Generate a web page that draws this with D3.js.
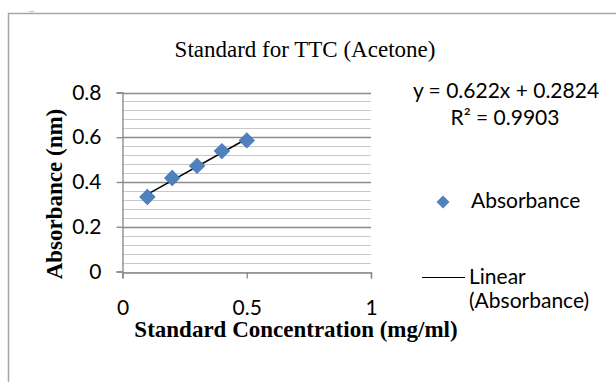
<!DOCTYPE html>
<html>
<head>
<meta charset="utf-8">
<script src="https://cdn.jsdelivr.net/npm/d3@7.9.0/dist/d3.min.js"></script>
<style>
  body { margin: 0; background: #fff; }
  svg { display: block; }
  .serif { font-family: "Liberation Serif", "Times New Roman", serif; }
  .sans { font-family: Lato, "Open Sans", sans-serif; }
</style>
</head>
<body>
<svg width="616" height="382"></svg>
<script>
// data
const concentration = [0.1, 0.2, 0.3, 0.4, 0.5];
const absorbance = [0.333, 0.418, 0.472, 0.538, 0.586];
const slope = 0.622;
const intercept = 0.2824;
const rSquared = 0.9903;
const xTicks = [0, 0.5, 1];
const yTicks = [0, 0.2, 0.4, 0.6, 0.8];
const yMinorTicks = d3.range(0, 0.8001, 0.04);

const svg = d3.select("svg");

// outer chart frame (only left/top edges are visible)
svg.append("path")
  .attr("d", "M8.5,382 L8.5,13.5 L616,13.5")
  .attr("fill", "none")
  .attr("stroke", "#a6a6a6")
  .attr("stroke-width", 1.5);
svg.append("line")
  .attr("x1", 29).attr("x2", 34).attr("y1", 11.5).attr("y2", 11.5)
  .attr("stroke", "#c0c0c0");

// scales
const x = d3.scaleLinear().domain([0, 1]).range([122.5, 371]);
const y = d3.scaleLinear().domain([0, 0.8]).range([271.5, 92.5]);

// minor gridlines
svg.append("g")
  .selectAll("line")
  .data(yMinorTicks)
  .join("line")
  .attr("x1", x(0)).attr("x2", x(1))
  .attr("y1", d => Math.round(y(d)) + 0.5)
  .attr("y2", d => Math.round(y(d)) + 0.5)
  .attr("stroke", "#c8c8c8");

// major gridlines
svg.append("g")
  .selectAll("line")
  .data(yTicks.slice(1))
  .join("line")
  .attr("x1", x(0)).attr("x2", x(1))
  .attr("y1", d => Math.round(y(d)) + 0.5)
  .attr("y2", d => Math.round(y(d)) + 0.5)
  .attr("stroke", "#8c8c8c")
  .attr("stroke-width", 1.3);

// y axis
const yAxis = svg.append("g")
  .attr("transform", `translate(${x(0)},0)`)
  .call(d3.axisLeft(y).tickValues(yTicks).tickSize(6).tickPadding(15)
    .tickFormat(d => d === 0 ? "0" : d3.format(".1f")(d)));

// x axis
const xAxis = svg.append("g")
  .attr("transform", `translate(0,${Math.round(y(0)) + 0.5})`)
  .call(d3.axisBottom(x).tickValues(xTicks).tickSize(6).tickPadding(22)
    .tickFormat(d => d === 0 ? "0" : d === 1 ? "1" : d3.format(".1f")(d)));

[yAxis, xAxis].forEach(a => {
  a.selectAll("path, line").attr("stroke", "#868686").attr("stroke-width", 1.3);
  a.selectAll("text")
    .attr("class", "sans")
    .attr("font-size", 21)
    .attr("fill", "#000");
});

// trendline
svg.append("line")
  .attr("x1", x(concentration[0]))
  .attr("y1", y(slope * concentration[0] + intercept))
  .attr("x2", x(concentration[concentration.length - 1]))
  .attr("y2", y(slope * concentration[concentration.length - 1] + intercept))
  .attr("stroke", "#000")
  .attr("stroke-width", 1.5);

// diamond markers
const diamond = d3.symbol().type(d3.symbolSquare).size(112);
svg.append("g")
  .selectAll("path")
  .data(concentration)
  .join("path")
  .attr("d", diamond)
  .attr("transform", (d, i) => `translate(${x(d)},${y(absorbance[i])}) rotate(45)`)
  .attr("fill", "#4f81bd")
  .attr("stroke", "#4a7ab5")
  .attr("stroke-width", 1);

// title
svg.append("text")
  .attr("class", "serif")
  .attr("x", 305).attr("y", 57)
  .attr("text-anchor", "middle")
  .attr("font-size", 23)
  .text("Standard for TTC (Acetone)");

// axis titles
svg.append("text")
  .attr("class", "serif")
  .attr("transform", "translate(62,194) rotate(-90)")
  .attr("text-anchor", "middle")
  .attr("font-size", 23)
  .attr("font-weight", "bold")
  .text("Absorbance (nm)");

svg.append("text")
  .attr("class", "serif")
  .attr("x", 296).attr("y", 337)
  .attr("text-anchor", "middle")
  .attr("font-size", 23)
  .attr("font-weight", "bold")
  .text("Standard Concentration (mg/ml)");

// trendline equation
const eq = svg.append("text")
  .attr("class", "sans")
  .attr("text-anchor", "middle")
  .attr("font-size", 21);
eq.append("tspan").attr("x", 506).attr("y", 98)
  .text(`y = ${slope}x + ${intercept}`);
eq.append("tspan").attr("x", 505).attr("y", 125)
  .text(`R² = ${rSquared}`);

// legend
const legend = svg.append("g").attr("class", "sans").attr("font-size", 21);
legend.append("path")
  .attr("d", d3.symbol().type(d3.symbolSquare).size(85))
  .attr("transform", "translate(443,202) rotate(45)")
  .attr("fill", "#4f81bd");
legend.append("text").attr("x", 471).attr("y", 208).text("Absorbance");
legend.append("line")
  .attr("x1", 422).attr("x2", 465)
  .attr("y1", 277.5).attr("y2", 277.5)
  .attr("stroke", "#000").attr("stroke-width", 1.2);
const lt = legend.append("text");
lt.append("tspan").attr("x", 469).attr("y", 284).text("Linear");
lt.append("tspan").attr("x", 469).attr("y", 308).text("(Absorbance)");
</script>
</body>
</html>
